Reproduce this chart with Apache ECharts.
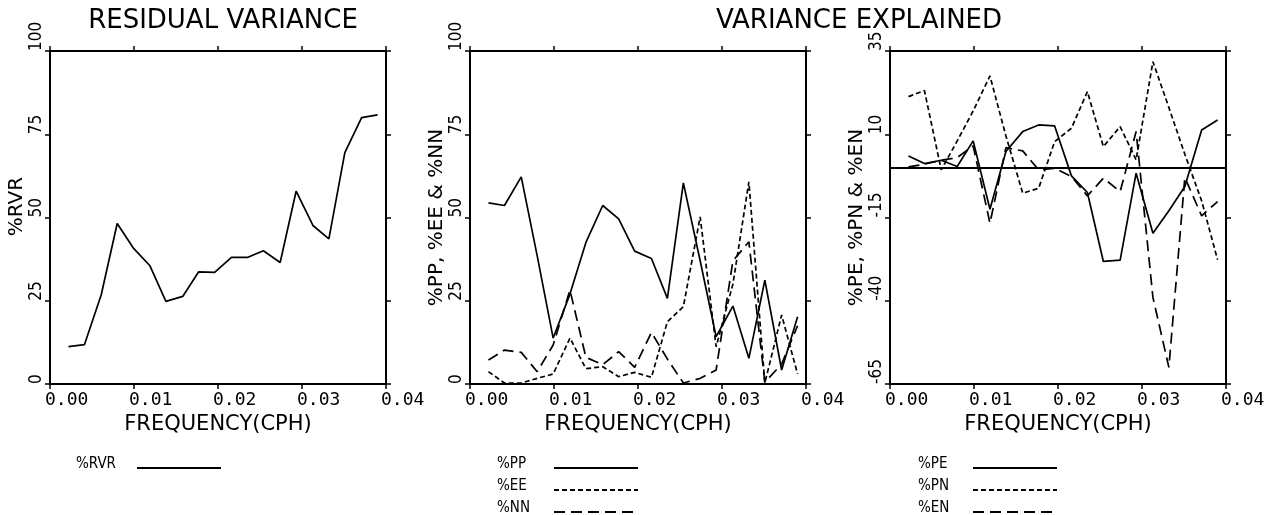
<!DOCTYPE html>
<html><head><meta charset="utf-8">
<script src="https://cdn.jsdelivr.net/npm/echarts@6/dist/echarts.min.js"></script>
<style>html,body{margin:0;padding:0;background:#fff}#c{width:1277px;height:515px}</style>
</head><body><div id="c"></div>
<script>
// ---- data ----
const freq = [0.0022, 0.0041, 0.0061, 0.0080, 0.0099, 0.0119, 0.0138, 0.0158, 0.0177, 0.0196,
              0.0216, 0.0235, 0.0254, 0.0274, 0.0293, 0.0313, 0.0332, 0.0351, 0.0371, 0.0390];
const RVR = [11.2, 11.8, 26.8, 48.2, 40.9, 35.5, 24.8, 26.3, 33.7, 33.5, 38.0, 38.0, 40.0, 36.5, 57.9, 47.6, 43.6, 69.5, 80.0, 80.8];
const PP  = [54.4, 53.6, 62.2, 38.5, 13.8, 27.0, 42.5, 53.6, 49.6, 39.9, 37.7, 25.7, 60.4, 37.0, 14.2, 23.4, 7.7, 31.2, 4.2, 20.2];
const EE  = [3.7, 0.3, 0.3, 1.7, 3.0, 13.8, 4.6, 5.2, 2.2, 3.5, 2.0, 18.7, 23.2, 50.2, 11.2, 30.0, 60.7, 0.3, 20.7, 3.0];
const NN  = [7.2, 10.2, 9.5, 3.7, 11.7, 28.2, 8.0, 5.8, 9.7, 5.0, 15.5, 7.5, 0.3, 1.7, 4.2, 37.0, 42.7, 0.5, 6.0, 17.5];
const PE  = [3.5, 1.2, 2.2, 0.3, 8.0, -12.5, 4.8, 10.8, 12.8, 12.5, -2.5, -7.5, -28.2, -27.8, -1.7, -19.7, -13.0, -5.7, 11.3, 14.3];
const PN  = [21.3, 23.1, -0.7, 8.0, 17.0, 27.5, 9.5, -7.7, -6.2, 7.8, 11.8, 22.8, 6.3, 12.3, 2.3, 31.8, 18.0, 4.0, -10.0, -27.7];
const EN  = [0.2, 1.0, 2.2, 3.0, 6.5, -16.7, 6.0, 5.0, -0.7, -0.2, -2.7, -8.5, -3.2, -7.2, 10.8, -39.0, -60.0, -3.0, -14.5, -10.2];
const xTickLabels = ['0.00', '0.01', '0.02', '0.03', '0.04'];
const yTickLabels12 = ['0', '25', '50', '75', '100'];
const yTickLabels3 = ['-65', '-40', '-15', '10', '35'];
const titles = ['RESIDUAL VARIANCE', 'VARIANCE EXPLAINED'];
const xName = 'FREQUENCY(CPH)';
const yNames = ['%RVR', '%PP, %EE & %NN', '%PE, %PN & %EN'];
const legendNames = [['%RVR'], ['%PP', '%EE', '%NN'], ['%PE', '%PN', '%EN']];

// ---- layout / style ----
const lefts = [50, 470, 890];
const gridTop = 51, gridW = 336, gridH = 333;
const BLACK = '#000';
const MONO = "'DejaVu Sans Mono', monospace";
const SANS = "'DejaVu Sans', sans-serif";
const NARROW = "'Liberation Sans Narrow', 'DejaVu Sans Condensed', sans-serif";
const shortDash = [5, 3];
const longDash = [11, 6];
const yRanges = [[0, 100], [0, 100], [-65, 35]];
const yLabelSets = [yTickLabels12, yTickLabels12, yTickLabels3];

const grids = lefts.map(l => ({left: l, top: gridTop, width: gridW, height: gridH}));
const xAxes = [], yAxes = [];
lefts.forEach((l, i) => {
  const axisLine = {show: true, onZero: false, lineStyle: {color: BLACK, width: 2}};
  const axisTick = {show: true, inside: false, length: 5, lineStyle: {color: BLACK, width: 1.5}};
  xAxes.push({
    gridIndex: i, type: 'value', position: 'bottom', min: 0, max: 0.04, interval: 0.01,
    axisLine, axisTick, splitLine: {show: false},
    axisLabel: {
      show: true, color: BLACK, fontFamily: MONO, fontSize: 18, margin: 7,
      align: 'left', padding: [0, 0, 0, -5], showMinLabel: true, showMaxLabel: true,
      formatter: v => xTickLabels[Math.round(v / 0.01)]
    },
    name: xName, nameLocation: 'middle', nameGap: 30,
    nameTextStyle: {color: BLACK, fontFamily: SANS, fontSize: 21}
  });
  xAxes.push({
    gridIndex: i, type: 'value', position: 'top', min: 0, max: 0.04, interval: 0.01,
    axisLine, axisTick, axisLabel: {show: false}, splitLine: {show: false}
  });
  const [mn, mx] = yRanges[i];
  const labs = yLabelSets[i];
  yAxes.push({
    gridIndex: i, type: 'value', position: 'left', min: mn, max: mx, interval: 25,
    axisLine, axisTick, splitLine: {show: false},
    axisLabel: {
      show: true, color: BLACK, fontFamily: NARROW, fontSize: 17, margin: 5,
      rotate: 90, align: 'left', verticalAlign: 'bottom', showMinLabel: true, showMaxLabel: true,
      formatter: v => labs[Math.round((v - mn) / 25)]
    },
    name: yNames[i], nameLocation: 'middle', nameGap: 14, nameRotate: 90,
    nameTextStyle: {color: BLACK, fontFamily: SANS, fontSize: 20, padding: i === 0 ? [0, 0, 0, 22] : 0}
  });
  yAxes.push({
    gridIndex: i, type: 'value', position: 'right', min: mn, max: mx, interval: 25,
    axisLine, axisTick, axisLabel: {show: false}, splitLine: {show: false}
  });
});

function mk(name, vals, g, dash, extra) {
  return Object.assign({
    name, type: 'line', xAxisIndex: 2 * g, yAxisIndex: 2 * g,
    data: freq.map((f, k) => [f, vals[k]]),
    symbol: 'none', showSymbol: false, silent: true, animation: false,
    lineStyle: {color: BLACK, width: 1.7, type: dash},
    itemStyle: {color: BLACK}
  }, extra || {});
}

const series = [
  mk('%RVR', RVR, 0, 'solid'),
  mk('%PP', PP, 1, 'solid'),
  mk('%EE', EE, 1, shortDash),
  mk('%NN', NN, 1, longDash),
  mk('%PE', PE, 2, 'solid', {
    markLine: {silent: true, symbol: 'none', label: {show: false}, animation: false,
      lineStyle: {color: BLACK, width: 1.8, type: 'solid'}, data: [{yAxis: 0}]}
  }),
  mk('%PN', PN, 2, shortDash),
  mk('%EN', EN, 2, longDash)
];

const legendLefts = [76, 497, 918];
const legendTextW = [56, 52, 50];
const legends = legendNames.map((names, i) => ({
  data: names, left: legendLefts[i], top: 457, height: 80,
  orient: 'vertical', align: 'right', padding: 0,
  itemWidth: 84, itemHeight: 10, itemGap: 0, selectedMode: false,
  itemStyle: {color: 'rgba(0,0,0,0)', borderColor: 'rgba(0,0,0,0)', borderWidth: 0},
  formatter: n => '{a|' + n + '}',
  textStyle: {
    color: BLACK, fontFamily: NARROW, fontSize: 15,
    rich: {a: {color: BLACK, fontFamily: NARROW, fontSize: 15, width: legendTextW[i], align: 'left',
               lineHeight: 10, padding: [0, 0, 7, 0]}}
  }
}));

const option = {
  animation: false,
  backgroundColor: '#fff',
  title: [
    {text: titles[0], left: 218, top: 3, textAlign: 'center',
      textStyle: {color: BLACK, fontFamily: SANS, fontSize: 26, fontWeight: 'normal'}},
    {text: titles[1], left: 854, top: 3, textAlign: 'center',
      textStyle: {color: BLACK, fontFamily: SANS, fontSize: 26, fontWeight: 'normal'}}
  ],
  legend: legends,
  grid: grids,
  xAxis: xAxes,
  yAxis: yAxes,
  series
};
const chart = echarts.init(document.getElementById('c'), null, {renderer: 'canvas'});
chart.setOption(option);
</script>
</body></html>
